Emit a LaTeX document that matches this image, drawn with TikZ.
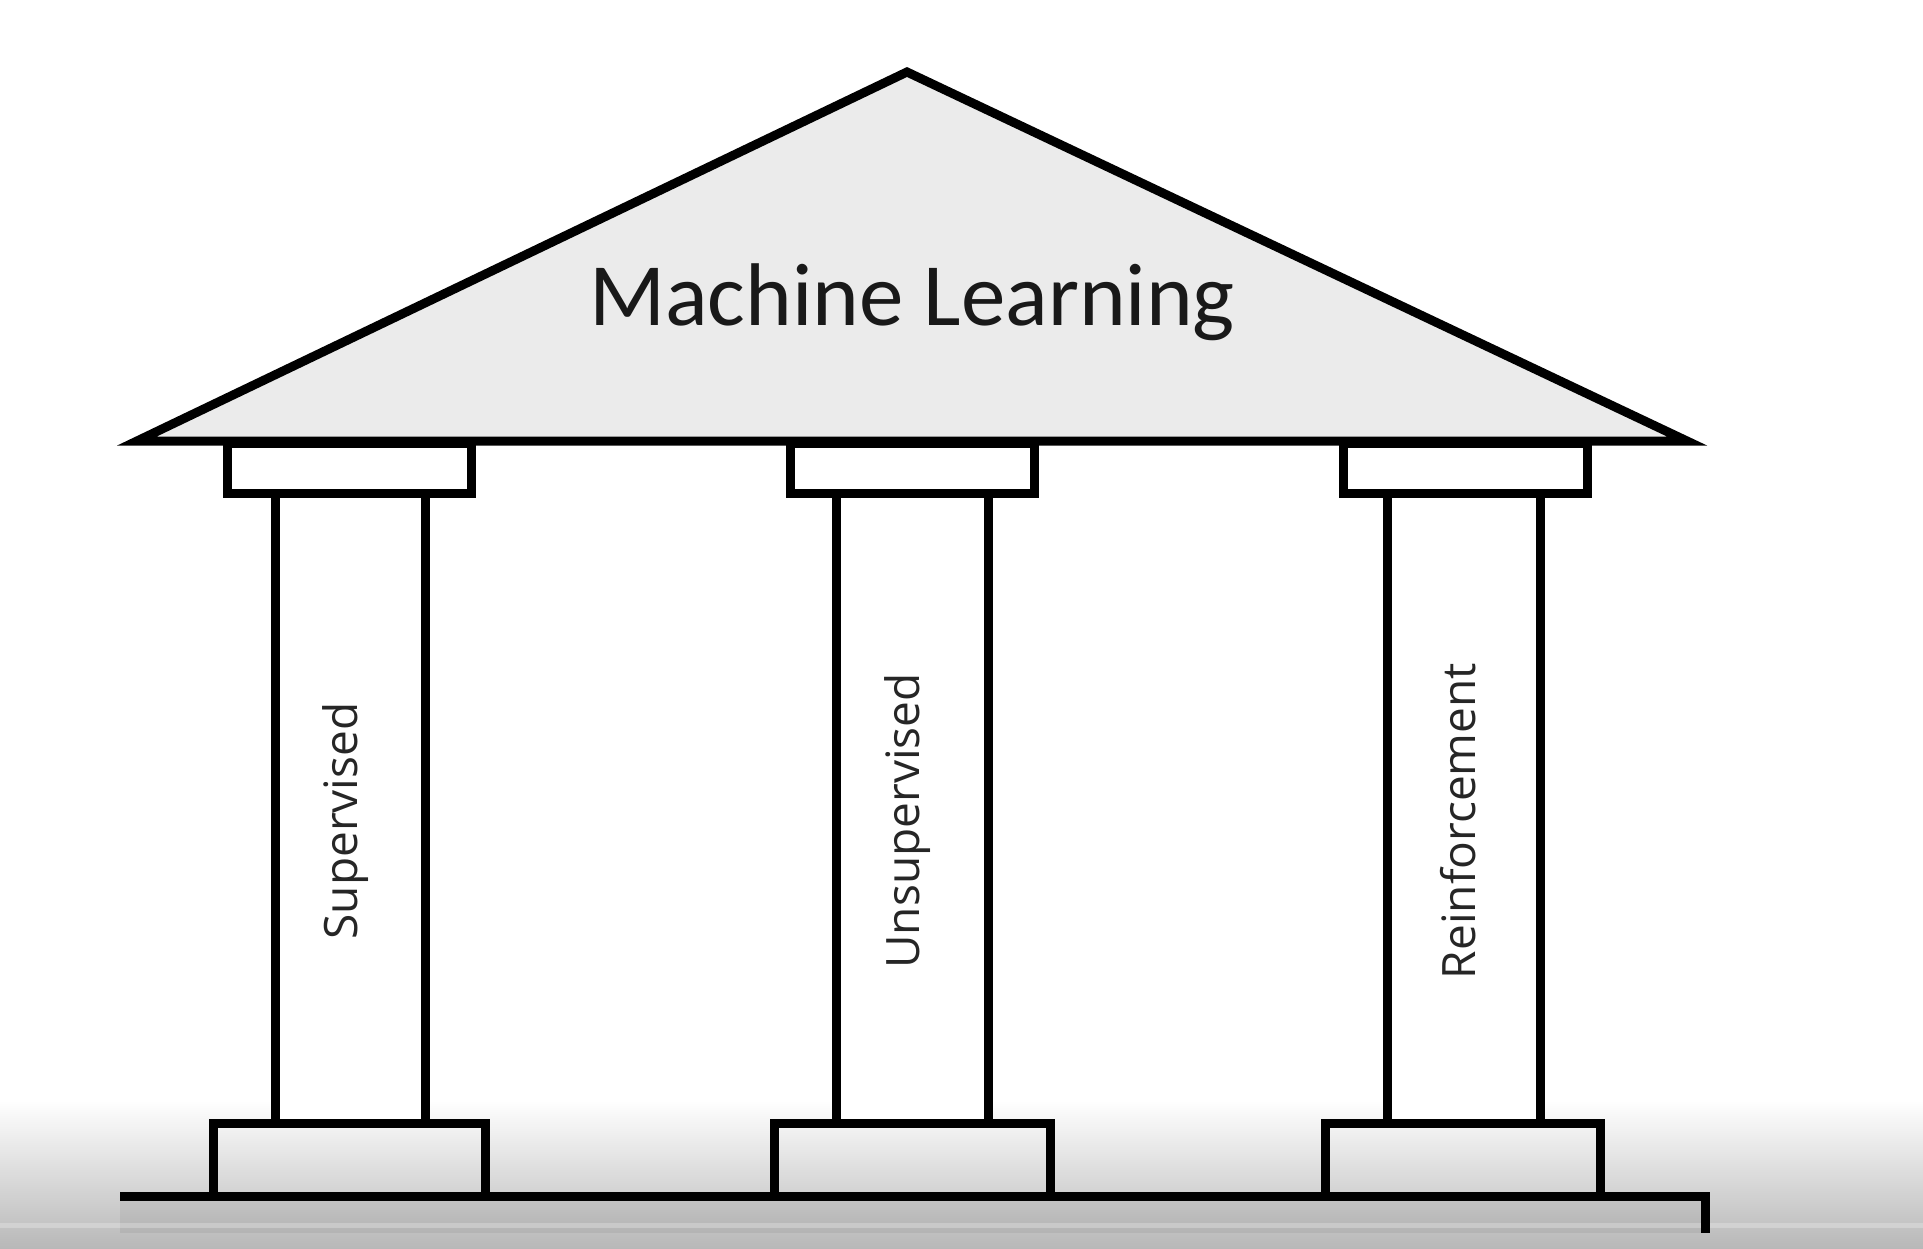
\documentclass[tikz,border=0pt]{standalone}
\usepackage{fontspec}
\newfontfamily\calfont{Carlito}
\newfontfamily\opfont{Open Sans}
\begin{document}
\begin{tikzpicture}[x=1pt,y=-1pt,
  outline/.style={draw=black,line width=9pt,line join=miter},
  roofbox/.style={outline,fill=roofgray},
  whitebox/.style={outline,fill=white},
  pillarlabel/.style={rotate=90,inner sep=0pt,text=black!85,font=\opfont\fontsize{46}{52}\selectfont},
  titlelabel/.style={inner sep=0pt,text=black!90,font=\calfont\fontsize{89}{100}\selectfont}]
\definecolor{roofgray}{HTML}{EBEBEB}
\useasboundingbox (0,0) rectangle (1923,1249);
% background fading at the bottom
\shade[top color=white,bottom color=white!72!black] (0,1100) rectangle (1923,1249);
\fill[black,opacity=0.06] (120,1200) rectangle (1705,1233);
\fill[white,opacity=0.25] (0,1223) rectangle (1923,1228);
% roof
\draw[roofbox] (137,441) -- (907,72) -- (1687,441) -- cycle;
\node[titlelabel,anchor=base] (title) at (912,326) {Machine Learning};
% capitals
\draw[whitebox] (227,443) rectangle (471,493);
\draw[whitebox] (790,443) rectangle (1034,493);
\draw[whitebox] (1343,443) rectangle (1587,493);
% shafts
\draw[whitebox] (275,493) rectangle (425,1123);
\draw[whitebox] (836,493) rectangle (988,1123);
\draw[whitebox] (1387,493) rectangle (1540,1123);
% bases
\draw[outline] (213,1123) rectangle (485,1196);
\draw[outline] (774,1123) rectangle (1050,1196);
\draw[outline] (1325,1123) rectangle (1600,1196);
% ground
\coordinate (g1) at (120,1196);
\coordinate (g2) at (1705,1196);
\coordinate (g3) at (1705,1233);
\draw[outline,line width=9pt] (g1) -- (g2) -- (g3);
% labels
\node[pillarlabel] (sup) at (346,821) {Supervised};
\node[pillarlabel] (unsup) at (908,821) {Unsupervised};
\node[pillarlabel] (reinf) at (1458,821) {Reinforcement};
\end{tikzpicture}
\end{document}
